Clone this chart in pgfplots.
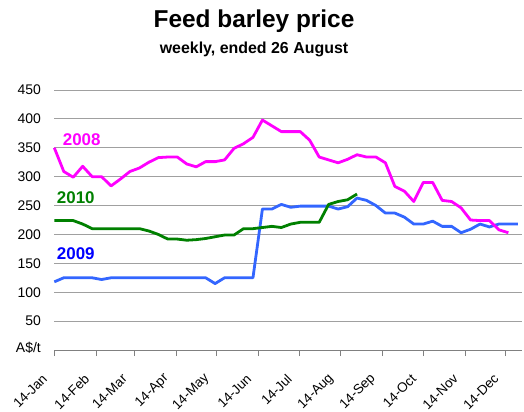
\documentclass[border=0pt]{standalone}
\usepackage{fontspec}
\setmainfont{Liberation Sans}
\usepackage{pgfplots}
\pgfplotsset{compat=1.18}
\definecolor{cmag}{HTML}{FF00FF}
\definecolor{cgreen}{HTML}{008000}
\definecolor{cblue}{HTML}{3366FF}
\definecolor{cbluetxt}{HTML}{0000FF}
\definecolor{cgrid}{HTML}{A0A0A0}
\begin{document}
\begin{tikzpicture}
\useasboundingbox (0bp,0bp) rectangle (524bp,-412bp);
\node[anchor=base, font=\fontsize{24.5}{28}\selectfont\bfseries] at (254bp,-27.3bp) {Feed barley price};
\node[anchor=base, font=\fontsize{16}{19}\selectfont\bfseries] at (254bp,-53.3bp) {weekly, ended 26 August};
\begin{axis}[
  at={(54.3bp,-350bp)}, anchor=south west,
  scale only axis, width=467.6bp, height=260bp,
  xmin=14, xmax=360, ymin=0, ymax=450,
  axis x line*=bottom, axis y line*=left,
  y axis line style={draw=none},
  x axis line style={draw=gray, line width=0.8bp},
  ymajorgrids, grid style={cgrid, line width=0.8bp},
  ytick={0,50,...,450},
  yticklabels={\raisebox{6bp}{A\$/t},50,100,150,200,250,300,350,400,450},
  ytick style={draw=none},
  yticklabel style={font=\fontsize{14}{16}\selectfont, xshift=-4bp},
  xtick={14,45,73,104,134,165,195,226,257,287,318,348},
  xticklabels={14-Jan,14-Feb,14-Mar,14-Apr,14-May,14-Jun,14-Jul,14-Aug,14-Sep,14-Oct,14-Nov,14-Dec},
  tick align=outside, major tick length=6bp,
  xtick style={draw=gray, line width=0.8bp},
  xticklabel style={font=\fontsize{13.5}{16}\selectfont, xshift=-7bp, yshift=-18bp, rotate=45, anchor=east},
  every axis plot/.append style={line width=2.8bp, line join=round, no markers},
  clip=false,
]
\addplot[cblue] coordinates {
(14,118)(21,125)(28,125)(35,125)(42,125)(49,122)(56,125)(63,125)(70,125)(77,125)
(84,125)(91,125)(98,125)(105,125)(112,125)(119,125)(126,125)(133,115)(140,125)(147,125)
(154,125)(161,125)(168,244)(175,244)(182,252)(189,247)(196,249)(203,249)(210,249)(217,249)
(224,244)(231,248)(238,263)(245,259)(252,250)(259,237)(266,237)(273,230)(280,218)(287,218)
(294,223)(301,214)(308,214)(315,203)(322,209)(329,218)(336,213)(343,218)(350,218)(357,218)};
\addplot[cgreen] coordinates {
(14,224)(21,224)(28,224)(35,218)(42,210)(49,210)(56,210)(63,210)(70,210)(77,210)
(84,206)(91,200)(98,192)(105,192)(112,190)(119,191)(126,193)(133,196)(140,199)(147,199)
(154,210)(161,210)(168,212)(175,214)(182,212)(189,218)(196,221)(203,221)(210,221)(217,252)
(224,257)(231,260)(238,270)};
\addplot[cmag] coordinates {
(14,350)(21,309)(28,299)(35,318)(42,300)(49,300)(56,284)(63,296)(70,309)(77,315)
(84,325)(91,333)(98,334)(105,334)(112,322)(119,317)(126,326)(133,326)(140,329)(147,349)
(154,357)(161,368)(168,398)(175,388)(182,378)(189,378)(196,378)(203,363)(210,334)(217,329)
(224,324)(231,330)(238,338)(245,334)(252,334)(259,324)(266,283)(273,275)(280,257)(287,290)
(294,290)(301,259)(308,257)(315,246)(322,225)(329,224)(336,224)(343,208)(350,203)};
\node[anchor=base west, text=cmag, font=\fontsize{17}{20}\selectfont\bfseries, inner sep=0pt] at (axis cs:20.2,353.4) {2008};
\node[anchor=base west, text=cgreen, font=\fontsize{17}{20}\selectfont\bfseries, inner sep=0pt] at (axis cs:15.8,253) {2010};
\node[anchor=base west, text=cbluetxt, font=\fontsize{17}{20}\selectfont\bfseries, inner sep=0pt] at (axis cs:15.8,156.4) {2009};
\end{axis}
\end{tikzpicture}
\end{document}
